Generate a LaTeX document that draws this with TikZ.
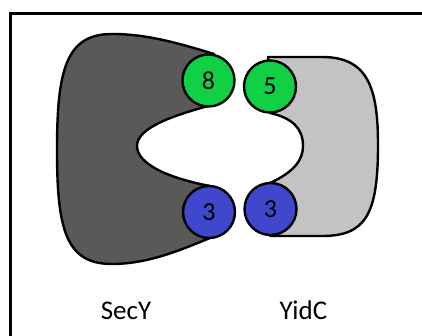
\documentclass[tikz,border=0pt]{standalone}
\usepackage{fontspec}
\setmainfont{Carlito}
\definecolor{secgray}{RGB}{89,89,89}
\definecolor{yidgray}{RGB}{195,195,195}
\definecolor{tmgreen}{RGB}{18,208,69}
\definecolor{tmblue}{RGB}{63,72,204}
\begin{document}
\begin{tikzpicture}[x=1pt,y=-1pt,
  outline/.style={draw=black,line width=2.4pt,line join=round},
  helix/.style={outline,circle,minimum size=52pt,inner sep=0pt,font=\fontsize{26}{30}\selectfont},
  label/.style={font=\fontsize{27}{32}\selectfont,anchor=base}]
\useasboundingbox (0,0) rectangle (422,336);
% frame
\draw[line width=3pt] (430,13.5) -- (10.5,13.5) -- (10.5,345);
% SecY body
\draw[outline,fill=secgray]
  (214,54) .. controls (175,42) and (145,34) .. (112,34)
  .. controls (66,34) and (57,70) .. (57,150)
  .. controls (57,230) and (66,264) .. (112,264)
  .. controls (150,264) and (185,248) .. (210,238)
  -- (210,186)
  .. controls (168,178) and (137,164) .. (137,146)
  .. controls (137,128) and (172,116) .. (208,106) -- cycle;
% YidC body
\draw[outline,fill=yidgray]
  (268,57) -- (322,57)
  .. controls (368,57) and (378,88) .. (378,145)
  .. controls (378,214) and (366,236) .. (322,236)
  -- (270,236) -- (270,183)
  .. controls (294,172) and (303,160) .. (303,146)
  .. controls (303,128) and (292,118) .. (270,113) -- cycle;
% transmembrane helices
\node[helix,fill=tmgreen] (s8) at (208.5,80.5) {8};
\node[helix,fill=tmblue] (s3) at (209,212) {3};
\node[helix,fill=tmgreen] (y5) at (270,86.5) {5};
\node[helix,fill=tmblue] (y3) at (270.5,209) {3};
% labels
\node[label] (secy) at (126,319) {SecY};
\node[label] (yidc) at (303.5,319) {YidC};
\end{tikzpicture}
\end{document}
